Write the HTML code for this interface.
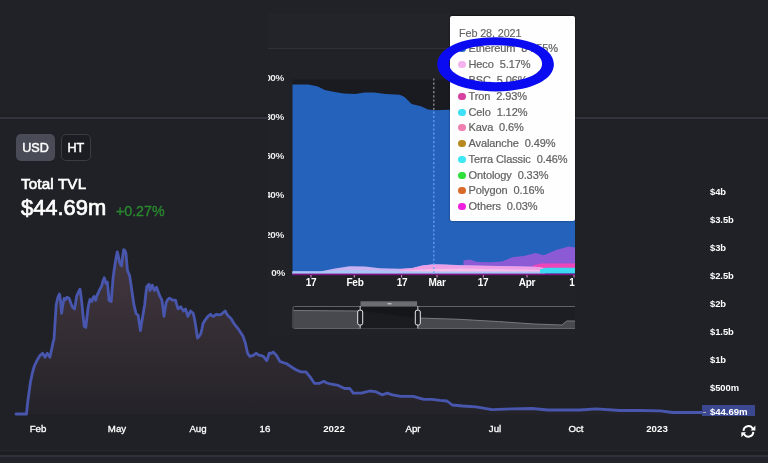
<!DOCTYPE html>
<html><head><meta charset="utf-8">
<style>
*{margin:0;padding:0;box-sizing:border-box}
html,body{width:768px;height:463px;overflow:hidden;background:#212227;font-family:"Liberation Sans",sans-serif;}
.abs{position:absolute}
#root{position:relative;width:768px;height:463px;overflow:hidden;background:#212227;filter:blur(0.35px)}
.btn,.tvl,.val,.chg,.yl,.xl,.iyl,.ixl,.tr,.date,.gs{will-change:transform}
.lower{left:0;top:118px;width:768px;height:345px;background:#202127}
.divider{left:0;top:116.9px;width:768px;height:2px;background:#33343d;box-shadow:0 -1.5px 1.5px #1d1e22}
.btn{top:134px;height:27px;border-radius:5px;color:#fff;font-size:12.6px;text-align:center;line-height:28.6px;-webkit-text-stroke:0.45px #fff}
.usd{left:16px;width:39px;background:#494b56}
.ht{left:61.2px;width:29.6px;background:#1c1d22;border:1px solid #3a3b44;line-height:26.6px}
.tvl{left:21px;top:174.5px;font-size:15.2px;color:#fff;line-height:18px;-webkit-text-stroke:0.65px #fff;letter-spacing:0.15px}
.val{left:20.5px;top:195.7px;font-size:21.9px;color:#fff;line-height:24px;-webkit-text-stroke:0.7px #fff}
.chg{left:116px;top:203px;font-size:14.2px;color:#29862f;line-height:16px;-webkit-text-stroke:0.4px #29862f}
.yl{left:710px;font-size:9.4px;color:#fff;font-weight:bold;line-height:12px;letter-spacing:-0.05px}
.xl{top:423.2px;font-size:9.7px;color:#fff;line-height:12px;width:60px;text-align:center;letter-spacing:0;-webkit-text-stroke:0.3px #fff}
.xl.b{font-weight:bold;-webkit-text-stroke:0;font-size:9.7px}
.inset{left:268px;top:13px;width:307px;height:330px;overflow:hidden}
.iyl{font-size:9.9px;font-weight:bold;color:#ececec;line-height:10px;width:30px;text-align:right;left:253.5px;letter-spacing:-0.3px}
.ixl{top:278.5px;font-size:10px;color:#fff;line-height:10px;width:30px;text-align:center;font-weight:bold;letter-spacing:-0.2px}
.tip{left:450px;top:16px;width:125px;height:205px;background:#fefefe;border-radius:2px;box-shadow:0 -0.5px 2px rgba(0,0,0,.5)}
.tr{position:absolute;left:458px;height:16px;line-height:16px;font-size:11px;color:#606060;white-space:nowrap;letter-spacing:-0.1px;-webkit-text-stroke:0.2px #606060}
.tr i{position:absolute;left:0.2px;top:4.6px;width:7.4px;height:7.4px;border-radius:50%}
.tr span{position:absolute;left:10.5px;top:0}
.date{left:458.5px;top:24.9px;font-size:10.8px;color:#666;-webkit-text-stroke:0.15px #666;line-height:16px;letter-spacing:-0.1px}
</style></head><body><div id="root">
<div class="abs lower"></div>
<div class="abs divider"></div>

<!-- bottom strip -->
<div class="abs" style="left:0;top:449.6px;width:768px;height:1.6px;background:#26272d"></div>
<div class="abs" style="left:0;top:452.3px;width:768px;height:3.2px;background:#1c1d22"></div>
<div class="abs" style="left:0;top:455.2px;width:768px;height:2px;background:#2f3039"></div>
<div class="abs" style="left:0;top:457.2px;width:768px;height:6px;background:#23242b"></div>

<div class="abs btn usd">USD</div>
<div class="abs btn ht">HT</div>
<div class="abs tvl">Total TVL</div>
<div class="abs val">$44.69m</div>
<div class="abs chg">+0.27%</div>

<!-- main chart -->
<svg class="abs" style="left:0;top:0" width="768" height="463" viewBox="0 0 768 463">
<defs>
<linearGradient id="g1" x1="0" y1="249" x2="0" y2="413" gradientUnits="userSpaceOnUse">
<stop offset="0" stop-color="#45383f"/><stop offset="0.55" stop-color="#332c33"/><stop offset="1" stop-color="#242329"/>
</linearGradient>
<filter id="bl" x="-5%" y="-5%" width="110%" height="110%"><feGaussianBlur stdDeviation="0.75"/></filter>
</defs>
<line x1="28" y1="413.5" x2="702" y2="413.5" stroke="#2b2c34" stroke-width="1"/>
<polygon points="16.0,414.0 26.5,414.0 27.5,403.9 28.5,396.1 30.4,382.5 32.4,372.8 34.3,366.0 37.2,360.1 40.1,355.3 42.7,353.3 44.0,355.5 45.0,357.2 47.3,353.3 48.6,355.0 49.9,357.2 51.2,351.4 53.2,341.7 54.0,339.3 56.2,304.7 58.0,297.0 59.4,294.0 60.5,300.0 61.6,313.4 62.8,305.0 64.2,298.3 65.5,299.5 67.0,297.2 69.1,298.3 70.8,303.0 72.4,307.0 74.5,309.0 75.6,303.0 76.7,296.0 78.5,292.0 80.0,289.2 81.0,296.0 82.0,304.7 83.2,317.0 84.2,326.3 85.8,327.4 86.9,318.0 87.9,309.0 89.0,303.0 90.0,299.4 91.8,301.5 93.0,298.0 94.0,296.5 95.7,300.4 96.8,296.0 97.8,294.0 99.5,290.0 101.5,286.4 103.0,281.0 104.3,277.8 105.8,283.2 107.3,282.0 108.2,291.0 109.0,300.4 111.2,301.5 112.1,290.0 113.0,278.9 114.0,271.0 115.1,263.7 116.2,257.0 117.3,251.9 118.3,256.0 119.4,261.6 120.5,264.5 121.6,265.9 122.6,257.0 123.7,249.7 124.8,250.5 125.9,253.0 126.7,262.0 127.4,270.2 128.5,273.0 129.6,275.6 130.6,282.0 131.7,289.6 132.8,297.0 133.9,304.7 136.0,313.4 138.2,315.5 139.3,323.0 140.4,330.6 141.4,324.0 142.5,317.7 143.6,311.0 144.7,304.7 145.7,295.0 146.8,286.4 149.0,284.2 150.0,290.5 152.2,285.1 154.3,290.5 156.5,287.3 159.7,295.9 161.9,300.2 163.0,308.0 164.0,316.4 165.1,309.0 166.2,302.4 167.8,299.5 169.4,298.1 172.7,300.2 175.5,300.2 176.8,305.0 178.1,308.9 180.7,306.7 183.5,311.0 185.6,308.9 187.8,316.4 190.6,311.0 193.2,313.2 194.3,318.0 195.4,324.0 196.4,331.0 197.5,338.0 199.0,336.5 200.8,333.7 201.9,329.0 202.9,324.0 204.5,321.0 206.2,318.6 208.3,316.0 210.5,314.3 212.0,316.0 213.7,316.4 215.3,314.8 217.0,314.3 219.0,315.0 221.3,314.3 223.3,312.5 225.2,311.0 226.5,313.5 227.8,315.4 231.0,318.6 234.3,324.0 238.6,329.4 242.9,335.9 245.5,343.5 247.6,353.2 249.8,356.4 253.3,355.3 256.3,353.2 258.2,354.8 260.2,355.3 263.4,356.4 266.7,360.7 268.0,357.0 269.2,353.2 271.2,353.4 273.1,352.1 276.4,355.3 280.0,361.5 283.9,362.9 286.3,363.5 292.5,367.7 296.5,370.0 300.8,371.9 306.0,371.9 310.2,377.1 314.4,383.3 319.6,383.3 323.8,381.3 327.0,383.0 330.0,383.8 338.3,385.4 344.6,388.5 349.8,388.5 353.3,393.1 361.3,393.1 369.6,391.0 375.8,391.7 382.1,394.8 387.3,393.1 392.5,394.8 400.8,396.3 413.3,396.3 423.8,399.4 432.0,399.4 440.0,400.4 447.0,401.0 452.3,405.0 462.7,406.0 476.0,406.9 492.0,409.7 512.0,408.9 532.0,408.5 548.0,410.0 580.0,410.0 596.0,408.9 620.0,410.5 640.4,410.5 660.5,410.9 672.5,412.5 702.0,412.5 702,414.5 16,414.5" fill="url(#g1)"/>
<g filter="url(#bl)"><polyline points="16.0,414.0 26.5,414.0 27.5,403.9 28.5,396.1 30.4,382.5 32.4,372.8 34.3,366.0 37.2,360.1 40.1,355.3 42.7,353.3 44.0,355.5 45.0,357.2 47.3,353.3 48.6,355.0 49.9,357.2 51.2,351.4 53.2,341.7 54.0,339.3 56.2,304.7 58.0,297.0 59.4,294.0 60.5,300.0 61.6,313.4 62.8,305.0 64.2,298.3 65.5,299.5 67.0,297.2 69.1,298.3 70.8,303.0 72.4,307.0 74.5,309.0 75.6,303.0 76.7,296.0 78.5,292.0 80.0,289.2 81.0,296.0 82.0,304.7 83.2,317.0 84.2,326.3 85.8,327.4 86.9,318.0 87.9,309.0 89.0,303.0 90.0,299.4 91.8,301.5 93.0,298.0 94.0,296.5 95.7,300.4 96.8,296.0 97.8,294.0 99.5,290.0 101.5,286.4 103.0,281.0 104.3,277.8 105.8,283.2 107.3,282.0 108.2,291.0 109.0,300.4 111.2,301.5 112.1,290.0 113.0,278.9 114.0,271.0 115.1,263.7 116.2,257.0 117.3,251.9 118.3,256.0 119.4,261.6 120.5,264.5 121.6,265.9 122.6,257.0 123.7,249.7 124.8,250.5 125.9,253.0 126.7,262.0 127.4,270.2 128.5,273.0 129.6,275.6 130.6,282.0 131.7,289.6 132.8,297.0 133.9,304.7 136.0,313.4 138.2,315.5 139.3,323.0 140.4,330.6 141.4,324.0 142.5,317.7 143.6,311.0 144.7,304.7 145.7,295.0 146.8,286.4 149.0,284.2 150.0,290.5 152.2,285.1 154.3,290.5 156.5,287.3 159.7,295.9 161.9,300.2 163.0,308.0 164.0,316.4 165.1,309.0 166.2,302.4 167.8,299.5 169.4,298.1 172.7,300.2 175.5,300.2 176.8,305.0 178.1,308.9 180.7,306.7 183.5,311.0 185.6,308.9 187.8,316.4 190.6,311.0 193.2,313.2 194.3,318.0 195.4,324.0 196.4,331.0 197.5,338.0 199.0,336.5 200.8,333.7 201.9,329.0 202.9,324.0 204.5,321.0 206.2,318.6 208.3,316.0 210.5,314.3 212.0,316.0 213.7,316.4 215.3,314.8 217.0,314.3 219.0,315.0 221.3,314.3 223.3,312.5 225.2,311.0 226.5,313.5 227.8,315.4 231.0,318.6 234.3,324.0 238.6,329.4 242.9,335.9 245.5,343.5 247.6,353.2 249.8,356.4 253.3,355.3 256.3,353.2 258.2,354.8 260.2,355.3 263.4,356.4 266.7,360.7 268.0,357.0 269.2,353.2 271.2,353.4 273.1,352.1 276.4,355.3 280.0,361.5 283.9,362.9 286.3,363.5 292.5,367.7 296.5,370.0 300.8,371.9 306.0,371.9 310.2,377.1 314.4,383.3 319.6,383.3 323.8,381.3 327.0,383.0 330.0,383.8 338.3,385.4 344.6,388.5 349.8,388.5 353.3,393.1 361.3,393.1 369.6,391.0 375.8,391.7 382.1,394.8 387.3,393.1 392.5,394.8 400.8,396.3 413.3,396.3 423.8,399.4 432.0,399.4 440.0,400.4 447.0,401.0 452.3,405.0 462.7,406.0 476.0,406.9 492.0,409.7 512.0,408.9 532.0,408.5 548.0,410.0 580.0,410.0 596.0,408.9 620.0,410.5 640.4,410.5 660.5,410.9 672.5,412.5 702.0,412.5" fill="none" stroke="#4856ae" stroke-width="2.8" stroke-linejoin="round" stroke-linecap="round"/></g>
</svg>

<div class="abs yl" style="top:186.3px">$4b</div>
<div class="abs yl" style="top:214.3px">$3.5b</div>
<div class="abs yl" style="top:242.3px">$3b</div>
<div class="abs yl" style="top:270.3px">$2.5b</div>
<div class="abs yl" style="top:298.3px">$2b</div>
<div class="abs yl" style="top:326.3px">$1.5b</div>
<div class="abs yl" style="top:354.3px">$1b</div>
<div class="abs yl" style="top:382.3px">$500m</div>

<div class="abs" style="left:702px;top:404.7px;width:53.4px;height:11px;background:#3b4890;overflow:hidden">
<div class="abs" style="left:1px;top:7px;width:3px;height:1px;background:#aab"></div>
<div class="abs gs" style="left:8px;top:1.6px;font-size:9.6px;line-height:12px;color:#fff;font-weight:bold;letter-spacing:-0.05px">$44.69m</div>
</div>

<div class="abs xl" style="left:8px">Feb</div>
<div class="abs xl" style="left:86.5px">May</div>
<div class="abs xl" style="left:168px">Aug</div>
<div class="abs xl" style="left:235px">16</div>
<div class="abs xl b" style="left:303.5px">2022</div>
<div class="abs xl" style="left:383px">Apr</div>
<div class="abs xl" style="left:464.5px">Jul</div>
<div class="abs xl" style="left:545.5px">Oct</div>
<div class="abs xl b" style="left:627.3px">2023</div>

<!-- refresh icon -->
<svg class="abs" style="left:739px;top:423px" width="18" height="18" viewBox="0 0 18 18" fill="none" stroke="#fff" stroke-width="2" stroke-linecap="butt">
<path d="M4.5 7.9 A4.9 4.9 0 0 1 13.8 5.9"/>
<path d="M14.3 8.9 A4.9 4.9 0 0 1 5.0 10.9"/>
<path d="M16.4 2.4 V7.6 H11.6 Z" fill="#fff" stroke="none"/>
<path d="M2.3 14.3 V9.2 H7.1 Z" fill="#fff" stroke="none"/>
</svg>

<!-- inset -->
<div class="abs" style="left:268px;top:13px;width:307px;height:35px;background:#232429"></div>
<div class="abs" style="left:268px;top:49px;width:307px;height:286px;background:#212228"></div>
<div class="abs" style="left:268px;top:47.6px;width:307px;height:1.4px;background:#303139"></div>

<svg class="abs" style="left:0;top:0" width="768" height="463" viewBox="0 0 768 463">
<polygon points="292.5,79.5 575,79.5 575,275 292.5,275" fill="#1a1b20"/>
<polygon points="292.5,84.5 308.4,84.5 317.8,86.4 324.8,90.0 331.9,91.6 343.6,93.4 355.3,93.9 364.7,92.5 374.0,92.5 385.8,93.9 399.8,94.8 404.5,97.0 411.6,104.0 420.9,106.3 428.0,109.4 435.0,110.3 449.0,109.8 575.0,109.8 575,275 292.5,275" fill="#2462bb"/>
<!-- bottom layers -->
<polygon points="463.5,263 463.5,260.4 470,259.5 477,262 490,262.3 502,261.5 512.5,257.3 525,255.8 535.4,253 543.8,255.2 556,250 568.8,246.5 575,247.5 575,268 463.5,268" fill="#8d5ad6"/>
<polygon points="533,265.5 541,263.6 575,263.4 575,268.5 533,268.5" fill="#ee45b8"/>
<polygon points="292.5,271.5 320,271.5 335,268.5 349.5,266.3 365,266.6 380,268.3 400,268.8 412,268 422,265.5 433,264.3 445,264.6 463,265.2 500,266 540,267 545,270 545,274 292.5,274" fill="#c9b2f2"/>
<polygon points="400,269.2 412,268.3 422,265.7 433,264.5 445,264.8 463,265.4 500,266.2 535,266.8 545,268 545,271 500,270.5 463,270 433,269.5 412,270.5 400,270.8" fill="#ee9fe6"/>
<polygon points="400,270.8 433,269 463,268.5 500,269.3 545,270 545,272 400,272" fill="#f6bdea"/>
<polygon points="292.5,271.3 320,271.3 345,270.3 380,270.6 400,271.2 433,271.4 500,271.6 545,271.6 545,274 292.5,274" fill="#a9c6f7"/>
<polygon points="540,269.5 546,267.8 575,267.8 575,273.6 540,273.6" fill="#3cd9f2"/>
<rect x="292.5" y="273.6" width="282.5" height="1.6" fill="#7a1480"/>
<!-- ticks -->
<g stroke="#e58fd8" stroke-width="1">
<line x1="311" y1="275" x2="311" y2="277.5"/><line x1="354.3" y1="275" x2="354.3" y2="277.5"/><line x1="401.6" y1="275" x2="401.6" y2="277.5"/>
<line x1="437" y1="275" x2="437" y2="277.5"/><line x1="483.3" y1="275" x2="483.3" y2="277.5"/><line x1="527" y1="275" x2="527" y2="277.5"/><line x1="574" y1="275" x2="574" y2="277.5"/>
</g>
<line x1="433.8" y1="78.4" x2="433.8" y2="109.9" stroke="#a9acb8" stroke-opacity="0.85" stroke-width="1.2" stroke-dasharray="2.2 2"/>
<line x1="433.8" y1="111.6" x2="433.8" y2="274" stroke="#6aa2f2" stroke-opacity="0.95" stroke-width="1.3" stroke-dasharray="2.2 2"/>

<!-- slider -->
<rect x="293" y="306.5" width="290" height="22" rx="1.5" fill="#1d1e24" stroke="#626368" stroke-width="1"/>
<polygon points="293.5,310.5 360,311 360,328 293.5,328" fill="#48494f"/>
<polygon points="418,318 459,319.3 498.7,321.6 534,324 562,325 566.7,321 575.4,321 575.4,328 418,328" fill="#48494f"/>
<polyline points="293.5,310.5 360,311" fill="none" stroke="#77787d" stroke-width="1"/>
<polyline points="418,318 459,319.3 498.7,321.6 534,324 562,325 566.7,321 575.4,321" fill="none" stroke="#77787d" stroke-width="1"/>
<rect x="360.2" y="306.5" width="57.6" height="22" fill="#15161a"/>
<polygon points="360.2,311 380,313 400,316 417.8,318 417.8,328 360.2,328" fill="#1b1c20"/>
<rect x="360.5" y="301.3" width="56.6" height="5" fill="#6c6d72"/>
<rect x="387.5" y="303" width="4" height="1.4" fill="#b8b9bd"/>
<line x1="360.2" y1="306" x2="360.2" y2="328.5" stroke="#c8c9cc" stroke-width="1"/>
<line x1="417.8" y1="306" x2="417.8" y2="328.5" stroke="#c8c9cc" stroke-width="1"/>
<rect x="357.7" y="310.2" width="5" height="14.8" rx="1.8" fill="#1d1e23" stroke="#e6e6e8" stroke-width="1"/>
<rect x="415.3" y="310.2" width="5" height="14.8" rx="1.8" fill="#1d1e23" stroke="#e6e6e8" stroke-width="1"/>
</svg>
<div class="abs" style="left:575.2px;top:300px;width:20px;height:32px;background:#202127"></div>

<div class="abs" style="left:268px;top:60px;width:30px;height:230px;overflow:hidden">
<div class="abs iyl" style="left:-13.6px;top:13.4px">100%</div>
<div class="abs iyl" style="left:-13.6px;top:52px">80%</div>
<div class="abs iyl" style="left:-13.6px;top:91px">60%</div>
<div class="abs iyl" style="left:-13.6px;top:130px">40%</div>
<div class="abs iyl" style="left:-13.6px;top:169.5px">20%</div>
<div class="abs iyl" style="left:-12.8px;top:207.6px">0%</div>
</div>
<div class="abs" style="left:268px;top:276px;width:307px;height:20px;overflow:hidden">
<div class="abs ixl" style="left:28px;top:1.8px">17</div>
<div class="abs ixl" style="left:71.5px;top:1.8px">Feb</div>
<div class="abs ixl" style="left:118.6px;top:1.8px">17</div>
<div class="abs ixl" style="left:153.5px;top:1.8px">Mar</div>
<div class="abs ixl" style="left:200.3px;top:1.8px">17</div>
<div class="abs ixl" style="left:244px;top:1.8px">Apr</div>
<div class="abs ixl" style="left:288.6px;top:1.8px">1</div>
</div>

<!-- tooltip -->
<div class="abs tip"></div>
<div class="abs date">Feb 28, 2021</div>
<div class="tr" style="top:40.1px"><i style="background:#2664c3"></i><span>Ethereum&nbsp;&nbsp;84.55%</span></div>
<div class="tr" style="top:56.1px"><i style="background:#f5b3ee"></i><span>Heco&nbsp;&nbsp;5.17%</span></div>
<div class="tr" style="top:72.1px"><i style="background:#c9b0f0"></i><span>BSC&nbsp;&nbsp;5.06%</span></div>
<div class="tr" style="top:88.1px"><i style="background:#d6409f"></i><span>Tron&nbsp;&nbsp;2.93%</span></div>
<div class="tr" style="top:103.7px"><i style="background:#3ee0f5"></i><span>Celo&nbsp;&nbsp;1.12%</span></div>
<div class="tr" style="top:119.4px"><i style="background:#f07fb0"></i><span>Kava&nbsp;&nbsp;0.6%</span></div>
<div class="tr" style="top:135.3px"><i style="background:#b8891f"></i><span>Avalanche&nbsp;&nbsp;0.49%</span></div>
<div class="tr" style="top:151.1px"><i style="background:#3ee8f5"></i><span>Terra Classic&nbsp;&nbsp;0.46%</span></div>
<div class="tr" style="top:166.8px"><i style="background:#2fe03a"></i><span>Ontology&nbsp;&nbsp;0.33%</span></div>
<div class="tr" style="top:182.3px"><i style="background:#d96a2a"></i><span>Polygon&nbsp;&nbsp;0.16%</span></div>
<div class="tr" style="top:198.1px"><i style="background:#f01fe0"></i><span>Others&nbsp;&nbsp;0.03%</span></div>

<!-- ellipse -->
<svg class="abs" style="left:0;top:0" width="768" height="463" viewBox="0 0 768 463">
<path d="M437.30,64.30 C437.30,48.31 461.20,37.20 495.60,37.20 C530.00,37.20 553.90,48.31 553.90,64.30 C553.90,80.29 530.00,91.40 495.60,91.40 C461.20,91.40 437.30,80.29 437.30,64.30Z M449.10,63.75 C449.10,52.86 468.17,45.30 495.60,45.30 C523.03,45.30 542.10,52.86 542.10,63.75 C542.10,74.64 523.03,82.20 495.60,82.20 C468.17,82.20 449.10,74.64 449.10,63.75Z" fill="#0b0bf2" fill-rule="evenodd"/>
</svg>
</div></body></html>
